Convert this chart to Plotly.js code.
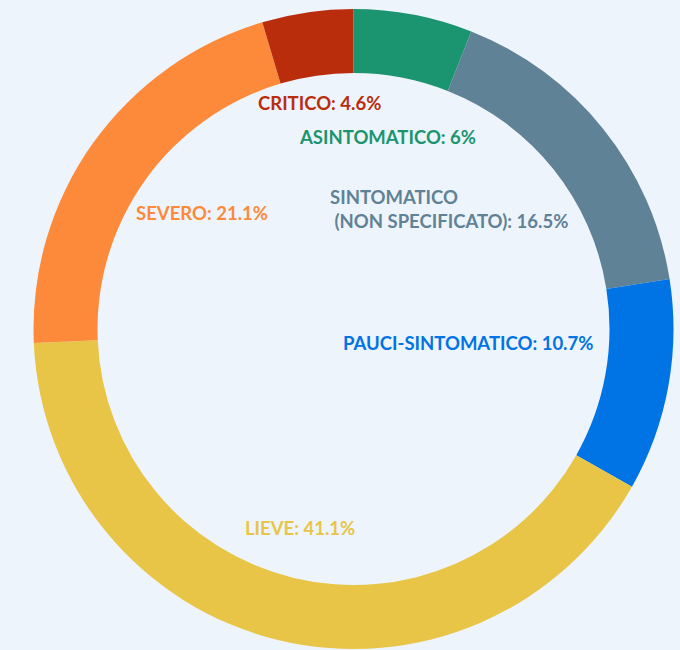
<!DOCTYPE html>
<html>
<head>
<meta charset="utf-8">
<script src="https://cdn.plot.ly/plotly-3.0.1.min.js"></script>
<style>
html,body{margin:0;padding:0;background:#eef4fb;}
#chart{width:680px;height:650px;}
</style>
</head>
<body>
<div id="chart"></div>
<script>
const labels = ["ASINTOMATICO", "SINTOMATICO<br> (NON SPECIFICATO)", "PAUCI-SINTOMATICO", "LIEVE", "SEVERO", "CRITICO"];
const values = [6, 16.5, 10.7, 41.1, 21.1, 4.6];
const colors = ["#1b9570", "#5f8296", "#0073e5", "#e8c547", "#fd8a3b", "#b92d0d"];

// label anchor positions in pixels (left edge, vertical centre)
const labelPx = [[297, 137], [328, 209], [341, 343], [243, 528], [134, 213], [256, 103]];

const W = 680, H = 650;
const margin = {l: 33, r: 6, t: 9, b: 1};
const pw = W - margin.l - margin.r, ph = H - margin.t - margin.b;

const annotations = labels.map((lab, i) => ({
  text: lab + ": " + values[i] + "%",
  xref: "paper", yref: "paper",
  x: (labelPx[i][0] - margin.l) / pw,
  y: 1 - (labelPx[i][1] - margin.t) / ph,
  xanchor: "left", yanchor: "middle", align: "left",
  showarrow: false,
  font: {family: "Lato, sans-serif", size: 18.5, color: colors[i], weight: "bold"}
}));

Plotly.newPlot("chart", [{
  type: "pie",
  labels: labels,
  values: values,
  marker: {colors: colors, line: {width: 0}},
  hole: 0.8,
  sort: false,
  direction: "clockwise",
  rotation: 0,
  textinfo: "none",
  hoverinfo: "label+percent"
}], {
  width: W, height: H,
  margin: margin,
  paper_bgcolor: "#eef4fb",
  plot_bgcolor: "#eef4fb",
  showlegend: false,
  annotations: annotations
}, {displayModeBar: false, staticPlot: true});
</script>
</body>
</html>
